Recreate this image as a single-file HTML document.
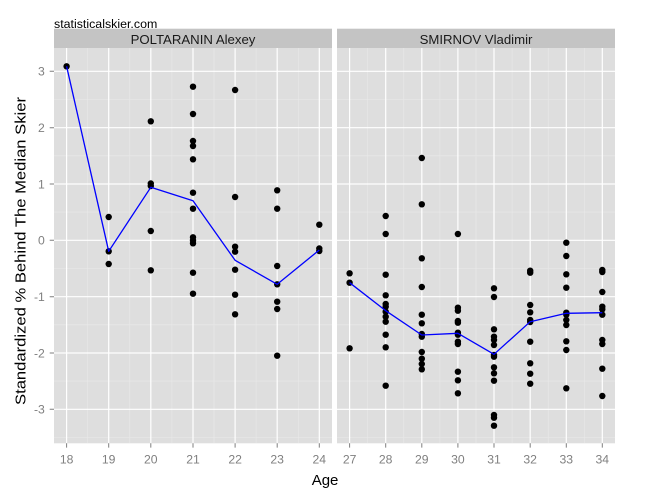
<!DOCTYPE html>
<html>
<head>
<meta charset="utf-8">
<style>
html,body{margin:0;padding:0;background:#fff;}
svg{display:block;}
text{font-family:"Liberation Sans",Arial,sans-serif;}
</style>
</head>
<body>
<svg width="650" height="500" viewBox="0 0 650 500" xmlns="http://www.w3.org/2000/svg">
<rect width="650" height="500" fill="#fff"/>
<text x="54" y="28" font-size="12.4" fill="#000">statisticalskier.com</text>
<rect x="54" y="28.7" width="278" height="19.3" fill="#c4c4c4"/>
<rect x="337" y="28.7" width="278" height="19.3" fill="#c4c4c4"/>
<text x="193" y="44" font-size="13.2" text-anchor="middle" fill="#1a1a1a">POLTARANIN Alexey</text>
<text x="476" y="44" font-size="13.2" text-anchor="middle" fill="#1a1a1a">SMIRNOV Vladimir</text>
<rect x="54" y="48" width="278" height="395.3" fill="#dedede"/>
<rect x="337" y="48" width="278" height="395.3" fill="#dedede"/>
<path stroke="#e9e9e9" stroke-width="0.6" fill="none" d="M54 99.5H332M54 155.8H332M54 212.1H332M54 268.5H332M54 324.8H332M54 381.1H332M54 437.5H332M337 99.5H615M337 155.8H615M337 212.1H615M337 268.5H615M337 324.8H615M337 381.1H615M337 437.5H615M87.7 48V443.3M129.8 48V443.3M171.9 48V443.3M214 48V443.3M256.1 48V443.3M298.3 48V443.3M367.7 48V443.3M403.8 48V443.3M439.9 48V443.3M476 48V443.3M512.1 48V443.3M548.2 48V443.3M584.3 48V443.3"/>
<path stroke="#fff" stroke-width="1.2" fill="none" d="M54 71.3H332M54 127.7H332M54 184H332M54 240.3H332M54 296.7H332M54 353H332M54 409.3H332M337 71.3H615M337 127.7H615M337 184H615M337 240.3H615M337 296.7H615M337 353H615M337 409.3H615M66.6 48V443.3M108.7 48V443.3M150.8 48V443.3M193 48V443.3M235.1 48V443.3M277.2 48V443.3M319.3 48V443.3M349.6 48V443.3M385.7 48V443.3M421.8 48V443.3M457.9 48V443.3M494 48V443.3M530.2 48V443.3M566.3 48V443.3M602.3 48V443.3"/>
<path stroke="#7f7f7f" stroke-width="1" fill="none" d="M49.7 71.3H54M49.7 127.7H54M49.7 184H54M49.7 240.3H54M49.7 296.7H54M49.7 353H54M49.7 409.3H54M66.6 443.3V447.6M108.7 443.3V447.6M150.8 443.3V447.6M193 443.3V447.6M235.1 443.3V447.6M277.2 443.3V447.6M319.3 443.3V447.6M349.6 443.3V447.6M385.7 443.3V447.6M421.8 443.3V447.6M457.9 443.3V447.6M494 443.3V447.6M530.2 443.3V447.6M566.3 443.3V447.6M602.3 443.3V447.6"/>
<g font-size="12.2" fill="#7f7f7f" text-anchor="end">
<text x="44.8" y="75.6">3</text>
<text x="44.8" y="132">2</text>
<text x="44.8" y="188.3">1</text>
<text x="44.8" y="244.6">0</text>
<text x="44.8" y="301">-1</text>
<text x="44.8" y="357.3">-2</text>
<text x="44.8" y="413.6">-3</text>
</g>
<g font-size="12.2" fill="#7f7f7f" text-anchor="middle">
<text x="66.6" y="463.3">18</text>
<text x="108.7" y="463.3">19</text>
<text x="150.8" y="463.3">20</text>
<text x="193" y="463.3">21</text>
<text x="235.1" y="463.3">22</text>
<text x="277.2" y="463.3">23</text>
<text x="319.3" y="463.3">24</text>
<text x="349.6" y="463.3">27</text>
<text x="385.7" y="463.3">28</text>
<text x="421.8" y="463.3">29</text>
<text x="457.9" y="463.3">30</text>
<text x="494" y="463.3">31</text>
<text x="530.2" y="463.3">32</text>
<text x="566.3" y="463.3">33</text>
<text x="602.3" y="463.3">34</text>
</g>
<text x="311.7" y="485" font-size="15" fill="#000">Age</text>
<text transform="translate(25.3,251) rotate(-90)" font-size="15" fill="#000" text-anchor="middle" textLength="308" lengthAdjust="spacingAndGlyphs">Standardized % Behind The Median Skier</text>
<g fill="#000">
<circle cx="66.6" cy="66.3" r="3.2"/>
<circle cx="108.7" cy="217" r="3.2"/>
<circle cx="108.7" cy="251.3" r="3.2"/>
<circle cx="108.7" cy="264" r="3.2"/>
<circle cx="150.8" cy="121.3" r="3.2"/>
<circle cx="150.8" cy="183.5" r="3.2"/>
<circle cx="150.8" cy="186" r="3.2"/>
<circle cx="150.8" cy="231" r="3.2"/>
<circle cx="150.8" cy="270.3" r="3.2"/>
<circle cx="193" cy="86.7" r="3.2"/>
<circle cx="193" cy="114" r="3.2"/>
<circle cx="193" cy="141" r="3.2"/>
<circle cx="193" cy="146" r="3.2"/>
<circle cx="193" cy="159.3" r="3.2"/>
<circle cx="193" cy="192.7" r="3.2"/>
<circle cx="193" cy="208.7" r="3.2"/>
<circle cx="193" cy="237.3" r="3.2"/>
<circle cx="193" cy="240.5" r="3.2"/>
<circle cx="193" cy="243.3" r="3.2"/>
<circle cx="193" cy="272.7" r="3.2"/>
<circle cx="193" cy="293.7" r="3.2"/>
<circle cx="235.1" cy="90" r="3.2"/>
<circle cx="235.1" cy="197" r="3.2"/>
<circle cx="235.1" cy="246.7" r="3.2"/>
<circle cx="235.1" cy="251.7" r="3.2"/>
<circle cx="235.1" cy="269.7" r="3.2"/>
<circle cx="235.1" cy="294.7" r="3.2"/>
<circle cx="235.1" cy="314.3" r="3.2"/>
<circle cx="277.2" cy="190.3" r="3.2"/>
<circle cx="277.2" cy="208.7" r="3.2"/>
<circle cx="277.2" cy="266" r="3.2"/>
<circle cx="277.2" cy="284.3" r="3.2"/>
<circle cx="277.2" cy="301.7" r="3.2"/>
<circle cx="277.2" cy="309" r="3.2"/>
<circle cx="277.2" cy="355.7" r="3.2"/>
<circle cx="319.3" cy="224.7" r="3.2"/>
<circle cx="319.3" cy="248.5" r="3.2"/>
<circle cx="319.3" cy="251" r="3.2"/>
<circle cx="349.6" cy="273.3" r="3.2"/>
<circle cx="349.6" cy="282.7" r="3.2"/>
<circle cx="349.6" cy="348.3" r="3.2"/>
<circle cx="385.7" cy="216" r="3.2"/>
<circle cx="385.7" cy="234" r="3.2"/>
<circle cx="385.7" cy="274.7" r="3.2"/>
<circle cx="385.7" cy="295.3" r="3.2"/>
<circle cx="385.7" cy="304" r="3.2"/>
<circle cx="385.7" cy="306.7" r="3.2"/>
<circle cx="385.7" cy="311.7" r="3.2"/>
<circle cx="385.7" cy="316.7" r="3.2"/>
<circle cx="385.7" cy="321.7" r="3.2"/>
<circle cx="385.7" cy="334.7" r="3.2"/>
<circle cx="385.7" cy="347.3" r="3.2"/>
<circle cx="385.7" cy="385.7" r="3.2"/>
<circle cx="421.8" cy="158" r="3.2"/>
<circle cx="421.8" cy="204.3" r="3.2"/>
<circle cx="421.8" cy="258.3" r="3.2"/>
<circle cx="421.8" cy="287" r="3.2"/>
<circle cx="421.8" cy="314.7" r="3.2"/>
<circle cx="421.8" cy="323.3" r="3.2"/>
<circle cx="421.8" cy="334" r="3.2"/>
<circle cx="421.8" cy="336.7" r="3.2"/>
<circle cx="421.8" cy="352" r="3.2"/>
<circle cx="421.8" cy="358.7" r="3.2"/>
<circle cx="421.8" cy="364" r="3.2"/>
<circle cx="421.8" cy="369.3" r="3.2"/>
<circle cx="457.9" cy="234" r="3.2"/>
<circle cx="457.9" cy="307.7" r="3.2"/>
<circle cx="457.9" cy="310.7" r="3.2"/>
<circle cx="457.9" cy="321" r="3.2"/>
<circle cx="457.9" cy="322.7" r="3.2"/>
<circle cx="457.9" cy="332.7" r="3.2"/>
<circle cx="457.9" cy="334.7" r="3.2"/>
<circle cx="457.9" cy="341.7" r="3.2"/>
<circle cx="457.9" cy="344" r="3.2"/>
<circle cx="457.9" cy="371.7" r="3.2"/>
<circle cx="457.9" cy="380.3" r="3.2"/>
<circle cx="457.9" cy="393.3" r="3.2"/>
<circle cx="494" cy="288.3" r="3.2"/>
<circle cx="494" cy="297" r="3.2"/>
<circle cx="494" cy="329.3" r="3.2"/>
<circle cx="494" cy="336.7" r="3.2"/>
<circle cx="494" cy="340" r="3.2"/>
<circle cx="494" cy="345" r="3.2"/>
<circle cx="494" cy="355" r="3.2"/>
<circle cx="494" cy="356.7" r="3.2"/>
<circle cx="494" cy="367.3" r="3.2"/>
<circle cx="494" cy="373.3" r="3.2"/>
<circle cx="494" cy="380.7" r="3.2"/>
<circle cx="494" cy="415" r="3.2"/>
<circle cx="494" cy="417.7" r="3.2"/>
<circle cx="494" cy="425.7" r="3.2"/>
<circle cx="530.2" cy="270.7" r="3.2"/>
<circle cx="530.2" cy="272.7" r="3.2"/>
<circle cx="530.2" cy="305" r="3.2"/>
<circle cx="530.2" cy="312.3" r="3.2"/>
<circle cx="530.2" cy="320" r="3.2"/>
<circle cx="530.2" cy="322" r="3.2"/>
<circle cx="530.2" cy="341.7" r="3.2"/>
<circle cx="530.2" cy="363.3" r="3.2"/>
<circle cx="530.2" cy="373.7" r="3.2"/>
<circle cx="530.2" cy="383.7" r="3.2"/>
<circle cx="566.3" cy="242.7" r="3.2"/>
<circle cx="566.3" cy="256" r="3.2"/>
<circle cx="566.3" cy="274.3" r="3.2"/>
<circle cx="566.3" cy="287.7" r="3.2"/>
<circle cx="566.3" cy="312.7" r="3.2"/>
<circle cx="566.3" cy="314.7" r="3.2"/>
<circle cx="566.3" cy="320" r="3.2"/>
<circle cx="566.3" cy="325" r="3.2"/>
<circle cx="566.3" cy="341.3" r="3.2"/>
<circle cx="566.3" cy="350" r="3.2"/>
<circle cx="566.3" cy="388.3" r="3.2"/>
<circle cx="602.3" cy="270" r="3.2"/>
<circle cx="602.3" cy="272" r="3.2"/>
<circle cx="602.3" cy="292" r="3.2"/>
<circle cx="602.3" cy="306.7" r="3.2"/>
<circle cx="602.3" cy="309.3" r="3.2"/>
<circle cx="602.3" cy="314.7" r="3.2"/>
<circle cx="602.3" cy="340" r="3.2"/>
<circle cx="602.3" cy="344" r="3.2"/>
<circle cx="602.3" cy="368.7" r="3.2"/>
<circle cx="602.3" cy="396" r="3.2"/>
</g>
<polyline fill="none" stroke="#0000ff" stroke-width="1.3" stroke-linejoin="round" points="66.6,66.3 108.7,251.3 150.8,187.3 193,200.7 235.1,260.3 277.2,284.3 319.3,250"/>
<polyline fill="none" stroke="#0000ff" stroke-width="1.3" stroke-linejoin="round" points="349.6,282.7 385.7,310.7 421.8,335 457.9,333.3 494,354.3 530.2,321.7 566.3,313.3 602.3,312.7"/>
</svg>
</body>
</html>
